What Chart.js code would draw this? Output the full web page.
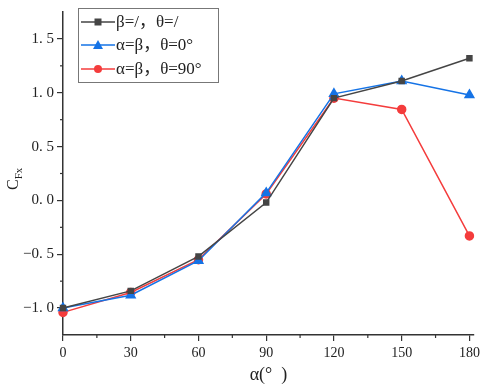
<!DOCTYPE html>
<html><head><meta charset="utf-8">
<script src="https://cdn.jsdelivr.net/npm/chart.js@4/dist/chart.umd.min.js"></script>
<style>html,body{margin:0;padding:0;background:#fff}#wrap{width:484px;height:387px}</style>
</head><body><div id="wrap"><canvas id="c" width="484" height="387"></canvas></div>
<script>
const alphaDeg = [0, 30, 60, 90, 120, 150, 180];
const seriesA = [-1.00, -0.84, -0.52, -0.02, 0.95, 1.11, 1.32];
const seriesB = [-1.00, -0.88, -0.56, 0.07, 0.99, 1.11, 0.98];
const seriesC = [-1.04, -0.855, -0.55, 0.06, 0.95, 0.845, -0.33];
const labels = ['β=/，θ=/', 'α=β，θ=0°', 'α=β，θ=90°'];
const xTicks = [0, 30, 60, 90, 120, 150, 180];
const yTicks = [-1.0, -0.5, 0.0, 0.5, 1.0, 1.5];

const SERIF = '"Liberation Serif","DejaVu Serif","Noto Sans CJK SC",serif';
const toPts = arr => alphaDeg.map((x, i) => ({x, y: arr[i]}));
const colors = ['#454545', '#1573e6', '#f43c3c'];
const shapes = ['rect', 'triangle', 'circle'];
const radii = [3.5, 5, 4];

const minorTicks = {
  id: 'minorTicks',
  afterDraw(chart) {
    const ctx = chart.ctx, xs = chart.scales.x, ys = chart.scales.y;
    ctx.save();
    ctx.strokeStyle = '#333'; ctx.lineWidth = 1.2;
    for (let v = 15; v < 182; v += 30) {
      const px = xs.getPixelForValue(v);
      ctx.beginPath(); ctx.moveTo(px, ys.bottom); ctx.lineTo(px, ys.bottom + 3); ctx.stroke();
    }
    for (let v = -0.75; v < 1.75; v += 0.5) {
      const py = ys.getPixelForValue(v);
      ctx.beginPath(); ctx.moveTo(xs.left, py); ctx.lineTo(xs.left - 3, py); ctx.stroke();
    }
    // y title C_Fx
    ctx.translate(18, 180);
    ctx.rotate(-Math.PI / 2);
    ctx.fillStyle = '#222';
    ctx.textBaseline = 'alphabetic';
    ctx.font = '16px ' + SERIF;
    ctx.fillText('C', -10, 0);
    const w = ctx.measureText('C').width;
    ctx.font = '11px ' + SERIF;
    ctx.fillText('Fx', -10 + w, 4);
    ctx.restore();
  }
};

const boxLegend = {
  id: 'boxLegend',
  afterDraw(chart) {
    const ctx = chart.ctx;
    ctx.save();
    ctx.strokeStyle = '#777'; ctx.lineWidth = 1;
    ctx.strokeRect(78.5, 8.5, 140, 74);
    const rows = [22, 45, 69];
    chart.data.datasets.forEach((ds, i) => {
      const y = rows[i];
      ctx.strokeStyle = ds.borderColor; ctx.lineWidth = 1.6;
      ctx.beginPath(); ctx.moveTo(81, y); ctx.lineTo(115, y); ctx.stroke();
      ctx.fillStyle = ds.borderColor;
      const cx = 98;
      ctx.beginPath();
      if (ds.pointStyle === 'rect') { ctx.rect(cx - 3.5, y - 3.5, 7, 7); }
      else if (ds.pointStyle === 'triangle') { ctx.moveTo(cx, y - 5); ctx.lineTo(cx + 5, y + 4); ctx.lineTo(cx - 5, y + 4); ctx.closePath(); }
      else { ctx.arc(cx, y, 4, 0, Math.PI * 2); }
      ctx.fill();
      ctx.fillStyle = '#222';
      ctx.font = '17px ' + SERIF;
      ctx.textBaseline = 'middle';
      ctx.fillText(ds.label, 116, y + 1);
    });
    ctx.restore();
  }
};

new Chart(document.getElementById('c'), {
  type: 'line',
  data: {
    datasets: [seriesA, seriesB, seriesC].map((s, i) => ({
      label: labels[i],
      data: toPts(s),
      borderColor: colors[i],
      backgroundColor: colors[i],
      pointBackgroundColor: colors[i],
      pointBorderColor: colors[i],
      pointStyle: shapes[i],
      pointRadius: radii[i],
      borderWidth: 1.5,
      tension: 0
    }))
  },
  options: {
    responsive: false,
    animation: false,
    clip: false,
    layout: { padding: { top: 2, right: 7, left: 0, bottom: 0 } },
    plugins: { legend: { display: false }, tooltip: { enabled: false } },
    scales: {
      x: {
        type: 'linear', min: 0, max: 182,
        afterBuildTicks: s => { s.ticks = xTicks.map(v => ({value: v})); },
        afterFit: s => { s.height = 52; },
        grid: { display: true, drawOnChartArea: false, drawTicks: true, tickLength: 6, color: '#333', lineWidth: 1.2 },
        border: { display: true, color: '#333', width: 1.5 },
        ticks: { color: '#222', font: { family: SERIF, size: 14 }, padding: 4, maxRotation: 0 },
        title: { display: true, text: 'α(°  )', color: '#222', font: { family: SERIF, size: 18 }, padding: { top: 0, bottom: 1 } }
      },
      y: {
        type: 'linear', min: -1.25, max: 1.75,
        afterBuildTicks: s => { s.ticks = yTicks.map(v => ({value: v})); },
        afterFit: s => { s.width = 63; },
        grid: { display: true, drawOnChartArea: false, drawTicks: true, tickLength: 6, color: '#333', lineWidth: 1.2 },
        border: { display: true, color: '#333', width: 1.5 },
        ticks: { color: '#222', font: { family: SERIF, size: 15 }, padding: 3,
          callback: v => v.toFixed(1).replace('.', '. ').replace('-', '−') }
      }
    }
  },
  plugins: [minorTicks, boxLegend]
});
</script></body></html>
